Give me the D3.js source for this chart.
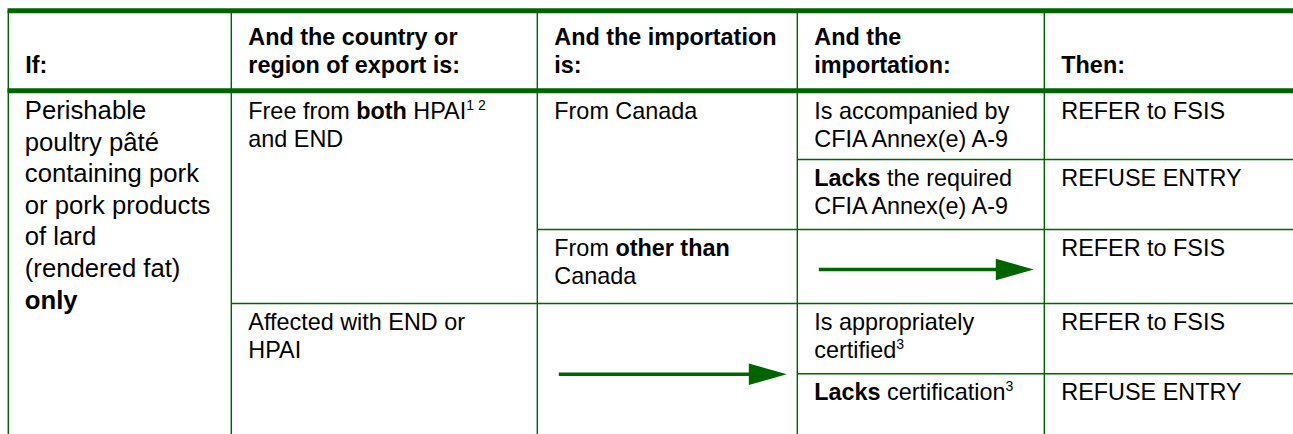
<!DOCTYPE html>
<html>
<head>
<meta charset="utf-8">
<script src="https://cdn.jsdelivr.net/npm/d3@7"></script>
<style>
  html, body { margin: 0; padding: 0; background: #fff; }
  svg { display: block; }
</style>
</head>
<body>
<div id="chart"></div>
<script>
// ---------------- DATA ----------------
// "|" separates lines, **x** = bold, ^x^ = superscript
const headerCells = [
  "If:",
  "And the country or|region of export is:",
  "And the importation|is:",
  "And the|importation:",
  "Then:"
];

const conditionLines = [
  "Perishable", "poultry pâté", "containing pork", "or pork products",
  "of lard", "(rendered fat)", "**only**"
];

// row spans refer to the five decision rows (0..5)
const regionCells = [
  { rows: [0, 3], text: "Free from **both** HPAI^1 2^|and END" },
  { rows: [3, 5], text: "Affected with END or|HPAI" }
];

const importationCells = [
  { rows: [0, 2], text: "From Canada" },
  { rows: [2, 3], text: "From **other than**|Canada" },
  { rows: [3, 5], arrow: true }
];

const documentCells = [
  { rows: [0, 1], text: "Is accompanied by|CFIA Annex(e) A-9" },
  { rows: [1, 2], text: "**Lacks** the required|CFIA Annex(e) A-9" },
  { rows: [2, 3], arrow: true },
  { rows: [3, 4], text: "Is appropriately|certified^3^" },
  { rows: [4, 5], text: "**Lacks** certification^3^" }
];

const actionCells = [
  { rows: [0, 1], text: "REFER to FSIS" },
  { rows: [1, 2], text: "REFUSE ENTRY" },
  { rows: [2, 3], text: "REFER to FSIS" },
  { rows: [3, 4], text: "REFER to FSIS" },
  { rows: [4, 5], text: "REFUSE ENTRY" }
];

// ---------------- LAYOUT ----------------
const W = 1293, H = 434;
const GREEN = "#006400";
const FONT = "'Liberation Sans', Arial, Helvetica, sans-serif";
const BODY = 23.4, BIG = 25.7, LH = 28, BIG_LH = 31.6;
const PAD = 17;

const colX = d3.scaleOrdinal().domain(d3.range(6)).range([8.3, 231.3, 537.3, 797.3, 1044.3, W]);
const rowY = d3.scaleOrdinal().domain(d3.range(6)).range([93, 159.5, 229.5, 303.5, 373.7, H]);
const topLine = 10.8, headLine = 90.8, thick = 5;

const svg = d3.select("#chart").append("svg")
  .attr("width", W).attr("height", H)
  .style("font-family", FONT);

function parseLine(s) {
  return s.split(/(\*\*[^*]+\*\*|\^[^^]+\^)/).filter(t => t.length).map(t => {
    if (t.startsWith("**")) return { t: t.slice(2, -2), bold: true };
    if (t.startsWith("^")) return { t: t.slice(1, -1), sup: true };
    return { t };
  });
}

function drawText(lines, x, y0, lh, size, bold) {
  lines.forEach((line, i) => {
    const txt = svg.append("text")
      .attr("x", x).attr("y", y0 + i * lh)
      .attr("fill", "#000")
      .style("font-size", size + "px")
      .style("font-weight", bold ? "bold" : "normal");
    let shift = 0;
    parseLine(line).forEach(seg => {
      const ts = txt.append("tspan").text(seg.t);
      if (seg.bold) ts.style("font-weight", "bold");
      if (seg.sup) {
        const up = -0.38 * size;
        ts.attr("dy", up - shift).style("font-size", (0.6 * size) + "px");
        shift = up;
      } else if (shift !== 0) {
        ts.attr("dy", -shift);
        shift = 0;
      }
    });
  });
}

// grid: verticals
const vLines = svg.append("g").attr("stroke", GREEN).attr("stroke-width", 1.4);
d3.range(5).forEach(c => {
  vLines.append("line")
    .attr("x1", colX(c)).attr("x2", colX(c))
    .attr("y1", topLine).attr("y2", H);
});

// cell top borders (for cells not starting at first row)
const columnsData = [regionCells, importationCells, documentCells, actionCells];
columnsData.forEach((cells, ci) => {
  const c = ci + 1;
  cells.filter(d => d.rows[0] > 0).forEach(d => {
    vLines.append("line")
      .attr("x1", colX(c)).attr("x2", colX(c + 1))
      .attr("y1", rowY(d.rows[0])).attr("y2", rowY(d.rows[0]));
  });
});

// thick rules
[topLine, headLine].forEach(y => {
  svg.append("line")
    .attr("x1", 7.5).attr("x2", W)
    .attr("y1", y).attr("y2", y)
    .attr("stroke", GREEN).attr("stroke-width", thick);
});

// header
headerCells.forEach((h, c) => {
  const lines = h.split("|");
  const first = 72.5 - (lines.length - 1) * 27.5;
  drawText(lines.map(l => l), colX(c) + PAD, first, 27.5, BODY, true);
});

// first column
drawText(conditionLines, colX(0) + PAD - 0.5, rowY(0) + 26, BIG_LH, BIG, false);

// other columns
const arrowG = svg.append("g");
columnsData.forEach((cells, ci) => {
  const c = ci + 1;
  cells.forEach(d => {
    if (d.arrow) {
      const y = (d.rows[1] - d.rows[0] > 1) ? rowY(d.rows[0] + 1) + 0.5 : rowY(d.rows[0]) + 40;
      const x0 = colX(c) + 21.5, x1 = colX(c + 1) - 10.5, head = 38, hh = 10.8;
      arrowG.append("line")
        .attr("x1", x0).attr("x2", x1 - head + 2)
        .attr("y1", y).attr("y2", y)
        .attr("stroke", GREEN).attr("stroke-width", 3.4);
      arrowG.append("path")
        .attr("d", d3.line()([[x1 - head, y - hh], [x1, y], [x1 - head, y + hh]]) + "Z")
        .attr("fill", GREEN);
    } else {
      drawText(d.text.split("|"), colX(c) + PAD, rowY(d.rows[0]) + 26, LH, BODY, false);
    }
  });
});
</script>
</body>
</html>
